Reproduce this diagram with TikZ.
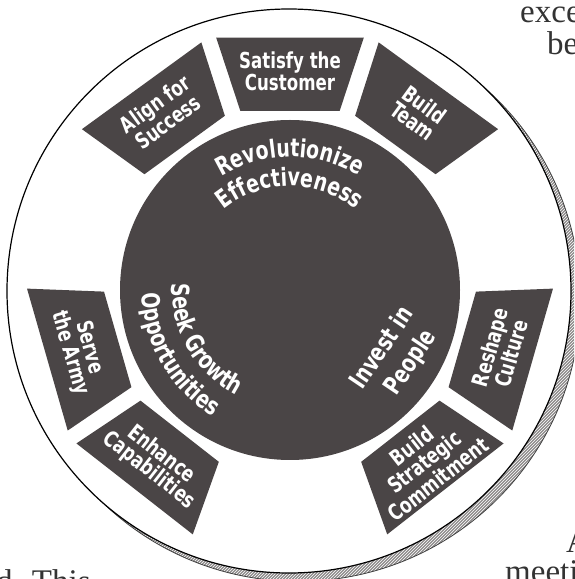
\documentclass[tikz,border=0pt]{standalone}
\usepackage{fontspec}
\newfontfamily\labfont{DejaVu Sans Condensed Bold}[FakeStretch=0.84]
\newfontfamily\pagefont{Liberation Serif}
\usetikzlibrary{decorations.text,patterns}
\definecolor{ink}{HTML}{4A4546}
\definecolor{bandgray}{HTML}{8E8B8B}
\newcommand\ringbox[4]{%
  \fill[ink] (#1+15.5:186) -- (#1+16.3:263) -- (#1-16.3:263) -- (#1-15.5:186) -- cycle;
  \node[boxlabel, rotate=#2] (#3) at (#1:219) {#4};
}
\newcommand\arctext[5]{% radius, start, end, size, text
  \path[decorate, decoration={text along path, text align=center,
    text={|\labfont\fontsize{#4}{#4}\selectfont\color{white}|#5}}]
    (#2:#1) arc[start angle=#2, end angle=#3, radius=#1pt];
}
\begin{document}
\begin{tikzpicture}[x=1pt,y=1pt,
  boxlabel/.style={text=white, font=\labfont\fontsize{22}{20}\selectfont, align=center, inner sep=0pt},
  centerlabel/.style={text=white, font=\labfont\fontsize{25}{25}\selectfont, inner sep=0pt},
  pagetext/.style={font=\pagefont\fontsize{33}{33}\selectfont, text=black!80, inner sep=0pt, anchor=base west}]
\useasboundingbox (0,0) rectangle (574,579);
\clip (0,0) rectangle (574,579);
% shadow band on the lower right
\fill[bandgray] (298.2,279.6) circle[radius=282pt];
\fill[pattern=north east lines, pattern color=white] (298.2,279.6) circle[radius=282pt];
\draw[line width=0.8pt, black!75] (298.2,279.6) circle[radius=282pt];
% outer circle
\filldraw[fill=white, draw=black, line width=1.2pt] (289,288) circle[radius=282pt];
\begin{scope}[shift={(290,289)}]
  \coordinate (C) at (0,0);
  \fill[ink] (C) circle[radius=170pt];
  \ringbox{126}{36}{align}{Align for\\Success}
  \ringbox{90}{0}{satisfy}{Satisfy the\\Customer}
  \ringbox{54}{-36}{team}{Build\\Team}
  \ringbox{-16}{74}{culture}{Reshape\\Culture}
  \ringbox{-52}{38}{commit}{Build\\Strategic\\Commitment}
  \ringbox{196}{-74}{serve}{Serve\\the Army}
  \ringbox{232}{-38}{enhance}{Enhance\\Capabilities}
  \arctext{133}{125}{55}{25}{Revolutionize}
  \arctext{104}{130}{50}{25}{Effectiveness}
  \arctext{118}{150}{270}{25}{Seek Growth}
  \arctext{148}{150}{270}{25}{Opportunities}
  \node[centerlabel, rotate=56] (invest) at (-32:107) {Invest in};
  \node[centerlabel, rotate=56] (people) at (-31:141) {People};
\end{scope}
% fragments of the surrounding page text
\node[pagetext] (t1) at (520,556) {exce};
\node[pagetext] (t2) at (547,524) {be};
\node[pagetext] (t3) at (566,27) {A};
\node[pagetext] (t4) at (505,-3) {meeti};
\node[pagetext] (t5) at (-4,-13) {d. This};
\end{tikzpicture}
\end{document}
